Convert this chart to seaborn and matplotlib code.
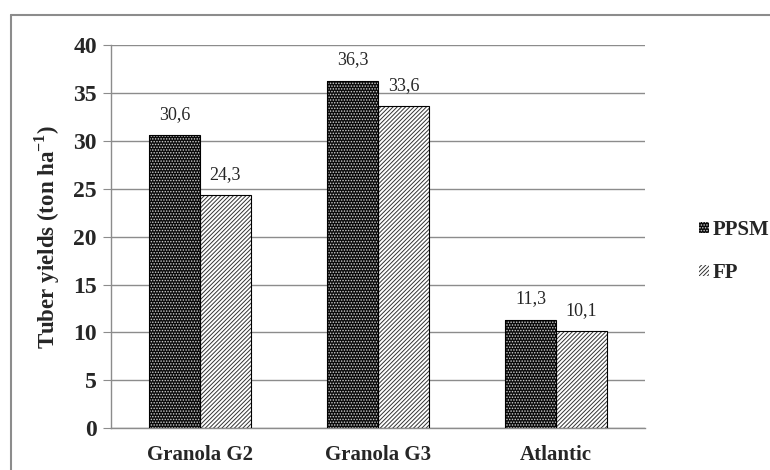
import pandas as pd
import matplotlib.pyplot as plt
import seaborn as sns
from matplotlib.patches import Rectangle
from matplotlib.lines import Line2D

# dane
varieties = ['Granola G2', 'Granola G3', 'Atlantic']
ppsm = [30.6, 36.3, 11.3]
fp = [24.3, 33.6, 10.1]
treatments = ['PPSM', 'FP']
yticks = [0, 5, 10, 15, 20, 25, 30, 35, 40]

df = pd.DataFrame({'variety': varieties * 2,
                   'treatment': ['PPSM'] * 3 + ['FP'] * 3,
                   'yield': ppsm + fp})

sns.set_style('white')
plt.rcParams['font.family'] = ['Liberation Serif', 'DejaVu Serif']
plt.rcParams['mathtext.fontset'] = 'custom'
plt.rcParams['mathtext.rm'] = 'Liberation Serif'
plt.rcParams['mathtext.bf'] = 'Liberation Serif:bold'
plt.rcParams['hatch.linewidth'] = 0.7

fig = plt.figure(figsize=(7.7, 4.7), dpi=100)
ax = fig.add_axes([0.144, 0.089, 0.694, 0.815])

sns.barplot(data=df, x='variety', y='yield', hue='treatment', order=varieties,
            hue_order=treatments, palette=['black', 'white'], width=0.57,
            gap=0, ax=ax, legend=False, edgecolor='black', linewidth=0.8)

styles = {'PPSM': ('#0a0a0a', '#d0d0d0', '......'), 'FP': ('white', '#333333', '////////')}
for cont, t in zip(ax.containers, treatments):
    face, hcol, hatch = styles[t]
    for bar in cont:
        bar.set_facecolor(face)
        bar.set_edgecolor(hcol)
        bar.set_hatch(hatch)
        bar.set_linewidth(0)
        ax.add_patch(Rectangle((bar.get_x(), bar.get_y()), bar.get_width(), bar.get_height(),
                               fill=False, edgecolor='black', linewidth=0.8, zorder=3))
    ax.bar_label(cont, labels=[f'{v:.1f}'.replace('.', ',') for v in cont.datavalues],
                 padding=9, fontsize=13)

ax.set_ylim(0, 40)
ax.set_xlim(-0.5, 2.5)
ax.set_yticks(yticks)
ax.yaxis.grid(True, color='#8c8c8c', linewidth=1)
ax.set_axisbelow(True)
for s in ['top', 'right']:
    ax.spines[s].set_visible(False)
for s in ['left', 'bottom']:
    ax.spines[s].set_color('#8c8c8c')
    ax.spines[s].set_linewidth(1)
ax.set_xticks([-0.5, 0.5, 1.5, 2.5], minor=True)
ax.tick_params(axis='x', which='major', length=0, pad=12, labelsize=15)
ax.tick_params(axis='x', which='minor', length=5, color='#8c8c8c', direction='out')
ax.tick_params(axis='y', length=6, color='#8c8c8c', direction='out', pad=4, labelsize=17, left=True)
for lab in ax.get_xticklabels() + ax.get_yticklabels():
    lab.set_fontweight('bold')
ax.set_xlabel('')
ax.set_ylabel('Tuber yields (ton ha$^{\\mathbf{-1}}$)', fontsize=16.5, fontweight='bold', labelpad=8)

handles = [Rectangle((0, 0), 1, 1, facecolor=styles[t][0], edgecolor=styles[t][1],
                     hatch=styles[t][2], linewidth=0) for t in treatments]
leg = fig.legend(handles, treatments, loc='center left', bbox_to_anchor=(0.908, 0.465),
                 frameon=False, handlelength=0.45, handleheight=0.45, handletextpad=0.2,
                 labelspacing=1.1, borderaxespad=0, borderpad=0,
                 prop={'weight': 'bold', 'size': 15})
leg.legend_handles[1].set_edgecolor('#333333')

# ramka wokol wykresu
fig.add_artist(Line2D([11 / 770, 11 / 770], [0, 1 - 15 / 470], color='#8c8c8c', linewidth=1.5))
fig.add_artist(Line2D([11 / 770, 1], [1 - 15 / 470, 1 - 15 / 470], color='#8c8c8c', linewidth=1.5))

fig.savefig('out.png', dpi=100)
